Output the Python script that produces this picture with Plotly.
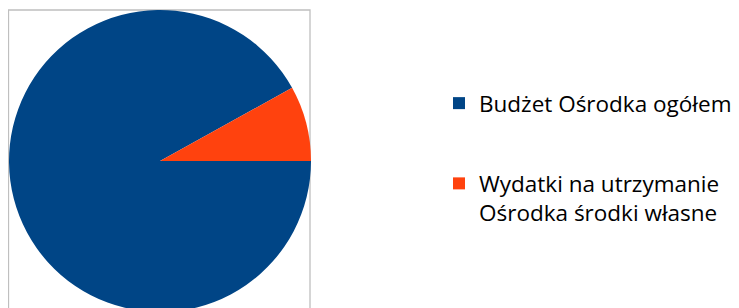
import plotly.graph_objects as go

labels = ["Budżet Ośrodka ogółem", "Wydatki na utrzymanie<br>Ośrodka środki własne"]
values = [91.95, 8.05]
colors = ["#004586", "#FF420E"]

W, H = 731, 310

fig = go.Figure()
fig.add_trace(go.Pie(
    labels=labels,
    values=values,
    marker=dict(colors=colors, line=dict(width=0)),
    sort=False,
    direction="clockwise",
    rotation=90,
    textinfo="none",
    hoverinfo="label+percent",
    domain=dict(x=[1 / W, 303 / W], y=[1 - 304 / H, 1 - 2 / H]),
    legendgroup="",
))
# invisible helper entry so that each slice forms its own legend group (enables group gap)
fig.add_trace(go.Scatter(
    x=[None], y=[None], mode="lines", name="",
    line=dict(width=0, color="rgba(0,0,0,0)"),
    legendgroup="zz", showlegend=True, legendrank=2000, hoverinfo="skip",
))

fig.add_shape(type="rect", xref="paper", yref="paper",
              x0=0.5 / W, x1=302 / W, y0=-0.2, y1=1 - 2 / H,
              line=dict(color="#BFBFBF", width=1.3), fillcolor="rgba(0,0,0,0)",
              layer="below")

fig.update_layout(
    width=W, height=H,
    margin=dict(l=0, r=0, t=0, b=0),
    paper_bgcolor="white",
    plot_bgcolor="white",
    showlegend=True,
    xaxis=dict(visible=False),
    yaxis=dict(visible=False),
    legend=dict(
        x=431 / W, y=1 - 74 / H, xanchor="left", yanchor="top",
        valign="top",
        traceorder="grouped",
        tracegroupgap=48,
        font=dict(family="Open Sans", size=22.5, color="#000000"),
        bgcolor="rgba(0,0,0,0)",
    ),
)

fig.write_html("out.html")
